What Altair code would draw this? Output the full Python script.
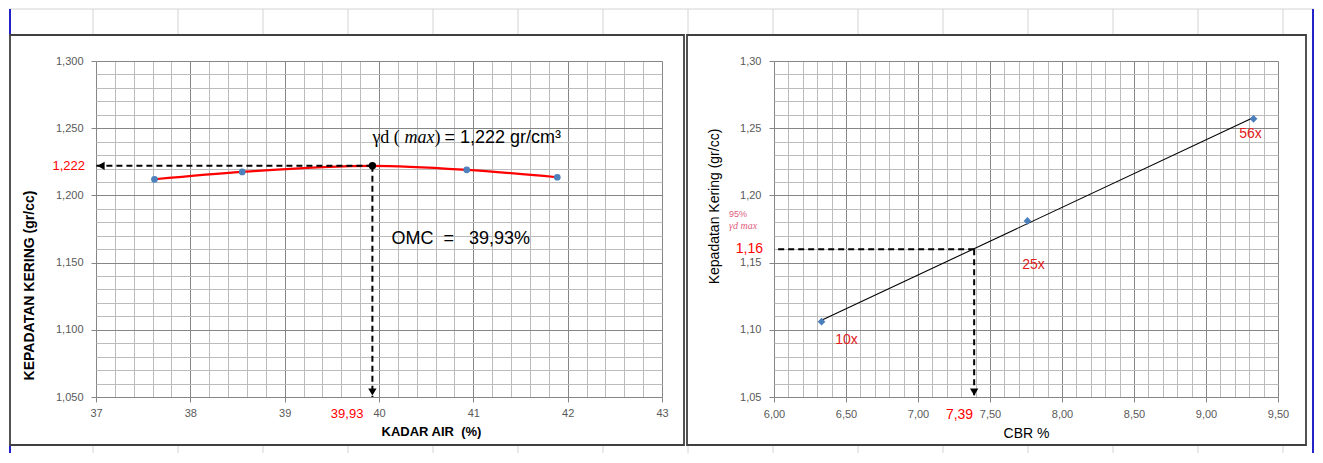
import altair as alt
import pandas as pd

# ---------------- data ----------------
# Left panel: compaction curve
moisture = [37.62, 38.55, 40.93, 41.89]
dry_density = [1.2120, 1.2175, 1.2190, 1.2135]
curve_moisture = [37.62, 38.55, 39.93, 40.93, 41.89]
curve_density = [1.2120, 1.2175, 1.2220, 1.2190, 1.2135]
omc = 39.93
gd_max = 1.222

# Right panel: CBR vs dry density
cbr = [6.33, 7.76, 9.33]
cbr_density = [1.106, 1.181, 1.257]
blows = ["10x", "25x", "56x"]
cbr_at_95 = 7.39
gd_95 = 1.16

# axis ranges / tick values
XL_MIN, XL_MAX = 37, 43
XR_MIN, XR_MAX = 6.0, 9.5
Y_MIN, Y_MAX = 1.05, 1.30
x_ticks_left = [round(37 + 0.2 * i, 1) for i in range(31)]
x_ticks_right = [round(6.0 + 0.1 * i, 1) for i in range(36)]
y_ticks = [round(1.05 + 0.01 * i, 2) for i in range(26)]

NB = "\u00a0"


def comma(v, nd):
    return f"{v:.{nd}f}".replace(".", ",")


FONT = "Liberation Sans"
SERIF = "Liberation Serif"
GRID_MAJOR = "#868686"
GRID_MINOR = "#bcbcbc"


def make_axis(values, mult, fmt, title, **kw):
    major = f"abs(datum.value * {mult} - round(datum.value * {mult})) < 0.000001"
    return alt.Axis(
        values=values, tickCount=len(values) + 5, title=title, grid=True, domain=False,
        gridColor=alt.expr(f"{major} ? '{GRID_MAJOR}' : '{GRID_MINOR}'"),
        gridWidth=1,
        tickColor=alt.expr(f"{major} ? '{GRID_MAJOR}' : 'transparent'"),
        tickSize=5,
        labelExpr=f"{major} ? replace(format(datum.value, '{fmt}'), '.', ',') : ''",
        labelOverlap=False, labelFlush=False, labelBound=False,
        labelFont=FONT, labelFontSize=11, labelColor="#595959",
        titleFont=FONT, titleColor="black",
        **kw,
    )


LW, LH = 566, 336
RW, RH = 504, 336

# ---------------- decorations (spreadsheet background + frames) ----------------
dummy = pd.DataFrame({"d": [0]})
deco = []
cell_cols = [-3 + 85 * k for k in range(15)]
deco.append(alt.Chart(dummy).mark_rule(color="#d4d4d4", strokeWidth=1).encode(
    x=alt.value(-87), x2=alt.value(1218), y=alt.value(-52)))
for cx in cell_cols:
    deco.append(alt.Chart(dummy).mark_rule(color="#d4d4d4", strokeWidth=1).encode(
        x=alt.value(cx), y=alt.value(-52), y2=alt.value(-26)))
    deco.append(alt.Chart(dummy).mark_rule(color="#d4d4d4", strokeWidth=1).encode(
        x=alt.value(cx), y=alt.value(384), y2=alt.value(392)))
deco.append(alt.Chart(dummy).mark_rule(color="#2323c8", strokeWidth=2).encode(
    x=alt.value(-86), y=alt.value(-52), y2=alt.value(-26)))
deco.append(alt.Chart(dummy).mark_rule(color="#2323c8", strokeWidth=2).encode(
    x=alt.value(-86), y=alt.value(384), y2=alt.value(392)))
deco.append(alt.Chart(dummy).mark_rule(color="#2323c8", strokeWidth=2).encode(
    x=alt.value(1217), y=alt.value(-52), y2=alt.value(392)))

frame_l = alt.Chart(dummy).mark_rect(fill="transparent", stroke="#404040", strokeWidth=1.8).encode(
    x=alt.value(-86), x2=alt.value(588), y=alt.value(-26), y2=alt.value(384))
frame_r = alt.Chart(dummy).mark_rect(fill="transparent", stroke="#404040", strokeWidth=1.8).encode(
    x=alt.value(-87), x2=alt.value(532), y=alt.value(-26), y2=alt.value(384))

# ---------------- left panel ----------------
xsc_l = alt.Scale(domain=[XL_MIN, XL_MAX], nice=False, zero=False)
ysc = alt.Scale(domain=[Y_MIN, Y_MAX], nice=False, zero=False)

xax_l = make_axis(x_ticks_left, 1, "d", f"KADAR AIR{NB}{NB}(%)",
                  titleX=335, titleY=34, titleBaseline="middle", titleAlign="center",
                  titleFontWeight="bold", titleFontSize=13, labelPadding=5)
yax_l = make_axis(y_ticks, 20, ".3f", "KEPADATAN KERING (gr/cc)",
                  titleX=-67, titleY=224, titleAngle=270, titleAlign="center",
                  titleBaseline="middle", titleFontWeight="bold", titleFontSize=14,
                  labelPadding=8)

curve_df = pd.DataFrame({"x": curve_moisture, "y": curve_density})
pts_df = pd.DataFrame({"x": moisture, "y": dry_density})
ann_l = pd.DataFrame({"x": [omc], "y": [gd_max],
                      "gl": [comma(gd_max, 3)], "ol": [comma(omc, 2)]})

curve = alt.Chart(curve_df).mark_line(color="#ff0000", strokeWidth=2.2, interpolate="monotone").encode(
    x=alt.X("x:Q", scale=xsc_l, axis=xax_l),
    y=alt.Y("y:Q", scale=ysc, axis=yax_l),
)
pts_l = alt.Chart(pts_df).mark_circle(size=45, color="#4f81bd", opacity=1).encode(x="x:Q", y="y:Q")
base_l = alt.Chart(ann_l)
hdash_l = base_l.mark_rule(color="black", strokeWidth=2, strokeDash=[6, 4]).encode(
    x="x:Q", x2=alt.datum(XL_MIN), y="y:Q")
vdash_l = base_l.mark_rule(color="black", strokeWidth=2, strokeDash=[6, 4]).encode(
    x="x:Q", y="y:Q", y2=alt.datum(Y_MIN))
arrow_left = base_l.mark_point(shape="triangle-left", filled=True, size=70, color="black",
                               opacity=1, xOffset=5).encode(x=alt.datum(XL_MIN), y="y:Q")
arrow_down_l = base_l.mark_point(shape="triangle-down", filled=True, size=70, color="black",
                                 opacity=1, yOffset=-5).encode(x="x:Q", y=alt.datum(Y_MIN))
max_pt = base_l.mark_circle(size=55, color="black", opacity=1).encode(x="x:Q", y="y:Q")

red_gd = base_l.mark_text(color="#ff0000", font=FONT, fontSize=13, align="right",
                          baseline="middle", dx=-11).encode(
    x=alt.datum(XL_MIN), y="y:Q", text="gl:N")
red_omc = base_l.mark_text(color="#ff0000", font=FONT, fontSize=13, align="right",
                           baseline="middle", dx=-9, dy=17).encode(
    x="x:Q", y=alt.datum(Y_MIN), text="ol:N")

gd_t1 = base_l.mark_text(text="γd (", font=SERIF, fontSize=18, align="left",
                         baseline="middle", dx=0, dy=-28, color="black").encode(x="x:Q", y="y:Q")
gd_t2 = base_l.mark_text(text="max", font=SERIF, fontSize=18, fontStyle="italic", align="left",
                         baseline="middle", dx=32, dy=-28, color="black").encode(x="x:Q", y="y:Q")
gd_t3 = base_l.mark_text(text=")", font=SERIF, fontSize=18, align="left",
                         baseline="middle", dx=62, dy=-28, color="black").encode(x="x:Q", y="y:Q")
gd_t4 = base_l.mark_text(text=f"= {comma(gd_max, 3)} gr/cm³", font=FONT, fontSize=18, align="left",
                         baseline="middle", dx=72, dy=-28, color="black").encode(x="x:Q", y="y:Q")
omc_t = base_l.mark_text(text=f"OMC{NB}{NB}={NB}{NB}{NB}{comma(omc, 2)}%", font=FONT, fontSize=18,
                         align="left", baseline="middle", dx=19, dy=73,
                         color="black").encode(x="x:Q", y="y:Q")

left = alt.layer(*deco, frame_l, curve, pts_l, hdash_l, vdash_l, arrow_left, arrow_down_l,
                 max_pt, red_gd, red_omc, gd_t1, gd_t2, gd_t3, gd_t4, omc_t).properties(
    width=LW, height=LH)

# ---------------- right panel ----------------
xsc_r = alt.Scale(domain=[XR_MIN, XR_MAX], nice=False, zero=False)
xax_r = make_axis(x_ticks_right, 2, ".2f", "CBR %",
                  titleFontWeight="normal", titleFontSize=14, titleY=36,
                  titleBaseline="middle", labelPadding=6)
yax_r = make_axis(y_ticks, 20, ".2f", "Kepadatan Kering (gr/cc)",
                  titleX=-60, titleY=145, titleAngle=270, titleAlign="center",
                  titleBaseline="middle", titleFontWeight="normal", titleFontSize=14,
                  labelPadding=8)

cbr_df = pd.DataFrame({"x": cbr, "y": cbr_density, "lbl": blows})
ann_r = pd.DataFrame({"x": [cbr_at_95], "y": [gd_95],
                      "gl": [comma(gd_95, 2)], "cl": [comma(cbr_at_95, 2)]})

trend = alt.Chart(cbr_df).transform_regression("x", "y", method="linear").mark_line(
    color="black", strokeWidth=1.1).encode(
    x=alt.X("x:Q", scale=xsc_r, axis=xax_r),
    y=alt.Y("y:Q", scale=ysc, axis=yax_r),
)
pts_r = alt.Chart(cbr_df).mark_point(shape="diamond", filled=True, size=60, color="#4a7ebb",
                                     opacity=1).encode(x="x:Q", y="y:Q")
lbl_layers = []
for name, dx, dy in [("10x", 25, 18), ("25x", 6, 44), ("56x", -3, 15)]:
    lbl_layers.append(alt.Chart(cbr_df).transform_filter(alt.datum.lbl == name).mark_text(
        color="#e02020", font=FONT, fontSize=14, align="center", baseline="middle",
        dx=dx, dy=dy).encode(x="x:Q", y="y:Q", text="lbl:N"))

base_r = alt.Chart(ann_r)
hdash_r = base_r.mark_rule(color="black", strokeWidth=2, strokeDash=[6, 4]).encode(
    x="x:Q", x2=alt.datum(XR_MIN), y="y:Q")
vdash_r = base_r.mark_rule(color="black", strokeWidth=2, strokeDash=[6, 4]).encode(
    x="x:Q", y="y:Q", y2=alt.datum(Y_MIN))
arrow_down_r = base_r.mark_point(shape="triangle-down", filled=True, size=70, color="black",
                                 opacity=1, yOffset=-5).encode(x="x:Q", y=alt.datum(Y_MIN))
red_gd95 = base_r.mark_text(color="#ff0000", font=FONT, fontSize=14, align="right",
                            baseline="middle", dx=-11).encode(
    x=alt.datum(XR_MIN), y="y:Q", text="gl:N")
red_cbr = base_r.mark_text(color="#ff0000", font=FONT, fontSize=14, align="right",
                           baseline="middle", dx=-1, dy=18).encode(
    x="x:Q", y=alt.datum(Y_MIN), text="cl:N")
pct_t = base_r.mark_text(text="95%", color="#e0607e", font=FONT, fontSize=9, align="left",
                         baseline="middle", dx=-45, dy=-35).encode(x=alt.datum(XR_MIN), y="y:Q")
gdm_t = base_r.mark_text(text="γd max", color="#e0607e", font=SERIF, fontSize=10,
                         fontStyle="italic", align="left", baseline="middle",
                         dx=-45, dy=-23).encode(x=alt.datum(XR_MIN), y="y:Q")

right = alt.layer(frame_r, trend, pts_r, *lbl_layers, hdash_r, vdash_r, arrow_down_r,
                  red_gd95, red_cbr, pct_t, gdm_t).properties(width=RW, height=RH)

chart = alt.hconcat(left, right, spacing=112, bounds="flush").properties(
    padding=0, background="white"
).configure_view(strokeWidth=0)

chart.save("out.html", embed_options={"renderer": "svg", "actions": False})
